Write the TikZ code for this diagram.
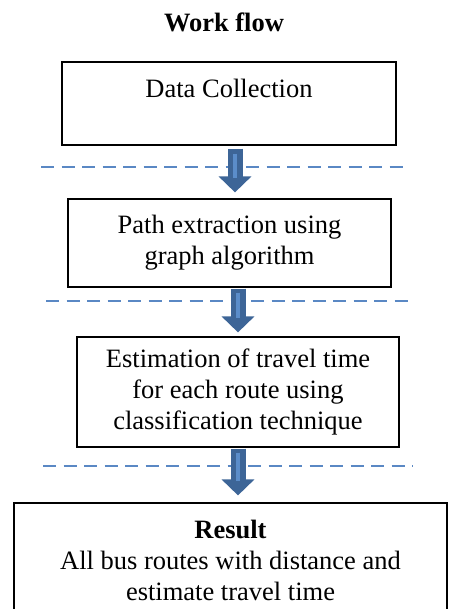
\documentclass[tikz,border=0pt]{standalone}
\usepackage{fontspec}
\setmainfont{Liberation Serif}
\usepackage{xcolor}
\usetikzlibrary{arrows.meta,positioning}
\definecolor{ArrowBlue}{HTML}{3D6597}
\definecolor{ArrowLight}{HTML}{5B8DCA}
\definecolor{DashBlue}{HTML}{5A88C4}

\begin{document}
\begin{tikzpicture}[x=1pt,y=-1pt,every node/.style={font=\fontsize{26.5}{31}\selectfont,align=center},box/.style={draw=black,line width=1.2pt,inner sep=0pt},flow/.style={ArrowBlue,line width=15pt,-{Triangle[width=32pt,length=16pt]}},flowstripe/.style={ArrowLight,line width=4pt},sep/.style={DashBlue,line width=1.5pt,dash pattern=on 13pt off 7.5pt}]
\useasboundingbox (0,0) rectangle (449,609);
\clip (0,0) rectangle (449,609);
\node (title) at (224,22) {\bfseries Work flow};
\node[box,minimum width=334pt,minimum height=83pt] (data) at (229,103.5) {Data Collection\\\mbox{}};
\node[box,minimum width=323pt,minimum height=88pt] (path) at (229.5,243) {Path extraction using\\graph algorithm};
\node[box,minimum width=322pt,minimum height=110pt] (est) at (238,392) {Estimation of travel time\\for each route using\\classification technique};
\node[box,minimum width=433pt,minimum height=114pt] (res) at (230.5,560) {\textbf{Result}\\All bus routes with distance and\\estimate travel time};
\draw[sep] (41,167)--(408,167);\draw[sep] (46,301)--(415,301);\draw[sep] (43,466)--(413,466);
\draw[flow,shorten <=3pt,shorten >=6pt] ([xshift=6pt]data.south)--([xshift=6pt]data.south |- path.north);
\draw[flowstripe,shorten <=8pt,shorten >=20pt] ([xshift=6pt]data.south)--([xshift=6pt]data.south |- path.north);
\draw[flow,shorten <=1pt,shorten >=4pt] ([xshift=8.5pt]path.south)--([xshift=8.5pt]path.south |- est.north);
\draw[flowstripe,shorten <=5pt,shorten >=18pt] ([xshift=8.5pt]path.south)--([xshift=8.5pt]path.south |- est.north);
\draw[flow,shorten <=1pt,shorten >=7pt] (est.south)--(est.south |- res.north);
\draw[flowstripe,shorten <=5pt,shorten >=21pt] (est.south)--(est.south |- res.north);
\end{tikzpicture}
\end{document}
